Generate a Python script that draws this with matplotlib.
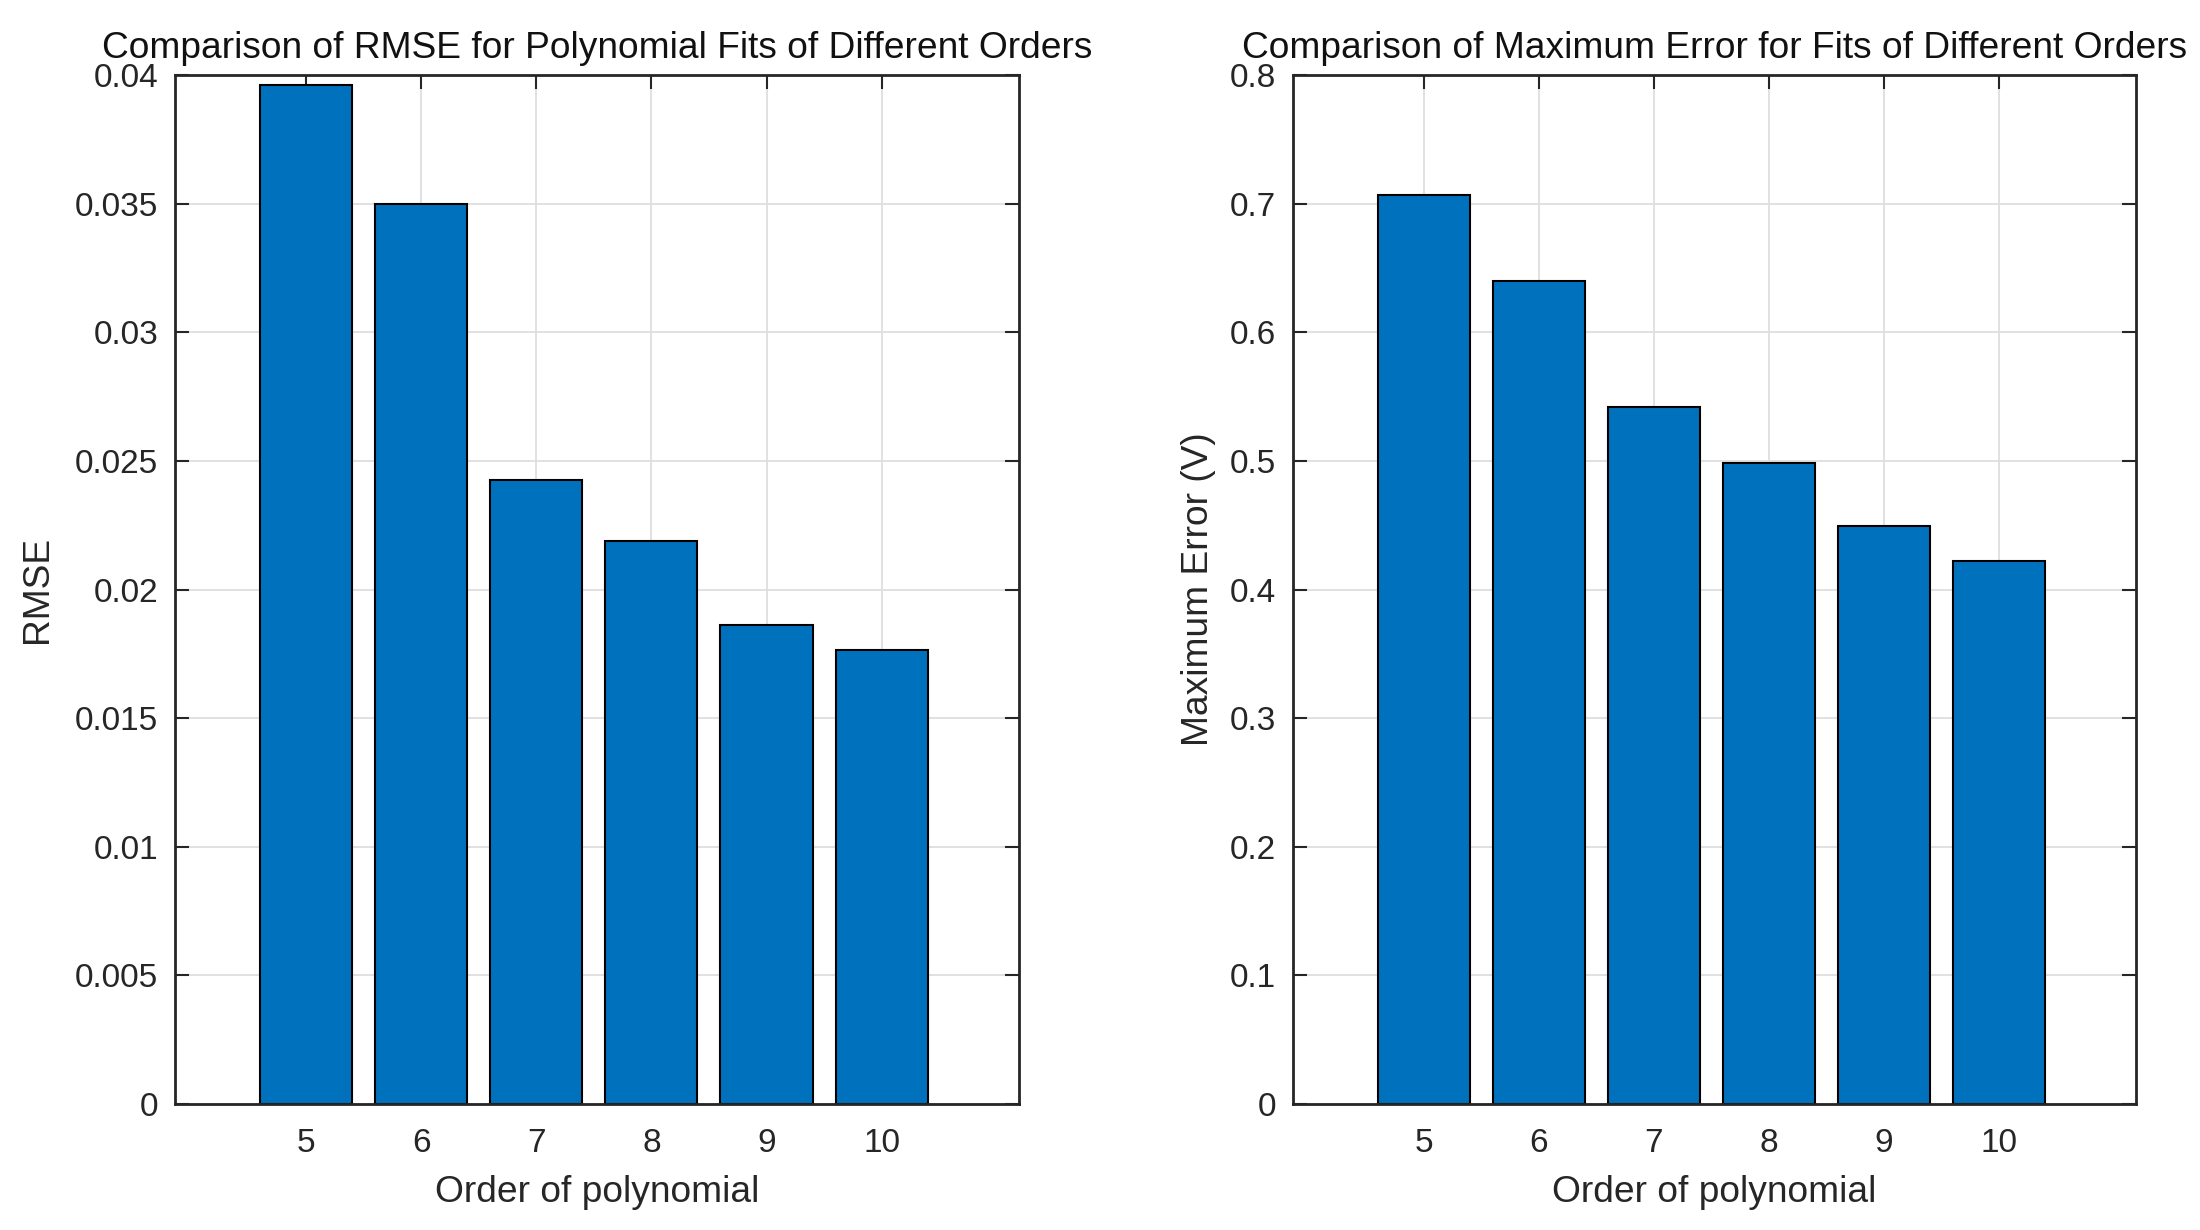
import matplotlib
matplotlib.use("Agg")
import matplotlib.pyplot as plt
from matplotlib.ticker import FixedLocator, FixedFormatter

# ---- data ----
orders = [5, 6, 7, 8, 9, 10]
rmse = [0.0396, 0.0350, 0.02424, 0.02187, 0.01861, 0.01764]
max_err = [0.7065, 0.6400, 0.5420, 0.4985, 0.4492, 0.4218]

rmse_ticks = [0, 0.005, 0.01, 0.015, 0.02, 0.025, 0.03, 0.035, 0.04]
rmse_tick_labels = ["0", "0.005", "0.01", "0.015", "0.02", "0.025", "0.03", "0.035", "0.04"]
maxerr_ticks = [0, 0.1, 0.2, 0.3, 0.4, 0.5, 0.6, 0.7, 0.8]
maxerr_tick_labels = ["0", "0.1", "0.2", "0.3", "0.4", "0.5", "0.6", "0.7", "0.8"]

titles = ["Comparison of RMSE for Polynomial Fits of Different Orders",
          "Comparison of Maximum Error for Fits of Different Orders"]
xlabels = ["Order of polynomial", "Order of polynomial"]
ylabels = ["RMSE", "Maximum Error (V)"]

plt.rcParams['font.family'] = ['Liberation Sans', 'DejaVu Sans']

BAR = '#0072BD'
TXT = '#262626'
GRID = '#dedede'

fig = plt.figure(figsize=(22, 12.3), dpi=100)
ax1 = fig.add_axes([0.0795, 0.1024, 0.3835, 0.8366])
ax2 = fig.add_axes([0.5875, 0.1024, 0.3835, 0.8366])

panels = [
    (ax1, rmse, rmse_ticks, rmse_tick_labels, 0.04),
    (ax2, max_err, maxerr_ticks, maxerr_tick_labels, 0.8),
]

for i, (ax, vals, yt, ytl, ymax) in enumerate(panels):
    # grid drawn behind bars, axis ticks kept above bars (MATLAB style)
    for y in yt:
        ax.axhline(y, color=GRID, linewidth=1.3, zorder=0.5)
    for x in orders:
        ax.axvline(x, color=GRID, linewidth=1.3, zorder=0.5)
    ax.bar(orders, vals, width=0.8, color=BAR, edgecolor='black', linewidth=1.5, zorder=2)
    ax.set_xlim(3.86, 11.19)
    ax.set_ylim(0, ymax)
    ax.xaxis.set_major_locator(FixedLocator(orders))
    ax.xaxis.set_major_formatter(FixedFormatter([str(o) for o in orders]))
    ax.yaxis.set_major_locator(FixedLocator(yt))
    ax.yaxis.set_major_formatter(FixedFormatter(ytl))
    ax.tick_params(axis='both', direction='in', length=10, width=1.5,
                   colors=TXT, labelsize=24, top=True, right=True)
    ax.tick_params(axis='y', pad=12)
    ax.tick_params(axis='x', pad=17)
    for sp in ax.spines.values():
        sp.set_linewidth(2)
        sp.set_color(TXT)
        sp.set_zorder(3)
    ax.set_title(titles[i], fontsize=26.7, color='#111111', pad=12)
    ax.set_xlabel(xlabels[i], fontsize=26.7, color=TXT, labelpad=12)
    ax.set_ylabel(ylabels[i], fontsize=26.7, color=TXT, labelpad=14 if i == 0 else 10)

fig.savefig("out.png", dpi=100, facecolor='white')
